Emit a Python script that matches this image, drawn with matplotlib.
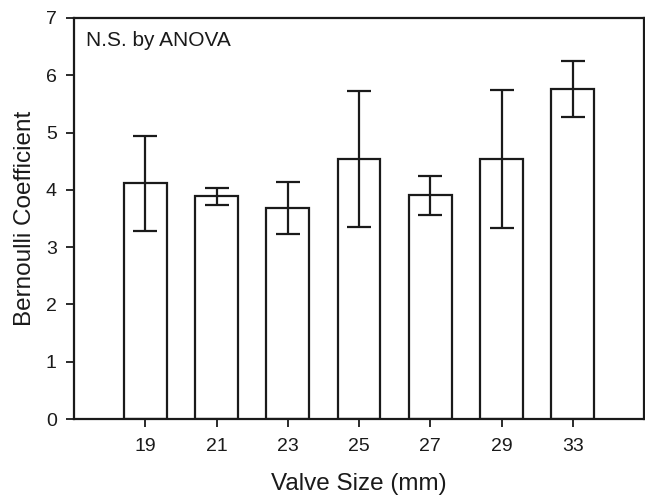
import matplotlib
matplotlib.use("Agg")
import matplotlib.pyplot as plt
import numpy as np

categories = ["19", "21", "23", "25", "27", "29", "33"]
means = [4.12, 3.89, 3.68, 4.54, 3.91, 4.54, 5.76]
err_upper = [4.94, 4.03, 4.13, 5.72, 4.24, 5.74, 6.25]
err_lower = [3.28, 3.73, 3.23, 3.35, 3.56, 3.34, 5.27]

plt.rcParams['font.family'] = ['Liberation Sans', 'DejaVu Sans']

fig = plt.figure(figsize=(6.45, 4.96), dpi=100)
ax = fig.add_axes([74/645, 1-419/496, 570/645, (419-18)/496])

x = np.arange(len(categories))
lo = np.array(means) - np.array(err_lower)
hi = np.array(err_upper) - np.array(means)
ax.bar(x, means, width=0.6, color='white', edgecolor='#1a1a1a', linewidth=1.6, zorder=2)
ax.errorbar(x, means, yerr=[lo, hi], fmt='none', ecolor='#1a1a1a', elinewidth=1.6,
            capsize=8.5, capthick=1.6, zorder=3)

ax.set_xlim(-1, 7)
ax.set_ylim(0, 7)
ax.set_xticks(x)
ax.set_xticklabels(categories)
ax.set_yticks(range(0, 8))
ax.tick_params(direction='out', length=5.5, width=1.3, labelsize=14, color='#1a1a1a',
               labelcolor='#1a1a1a')
ax.tick_params(axis='x', pad=8)
ax.tick_params(axis='y', pad=7)
for s in ax.spines.values():
    s.set_linewidth(1.6)
    s.set_color('#1a1a1a')
ax.set_xlabel('Valve Size (mm)', fontsize=17.5, labelpad=13, color='#1a1a1a')
ax.set_ylabel('Bernoulli Coefficient', fontsize=17.5, labelpad=7, color='#1a1a1a')
ax.text(0.021, 0.945, 'N.S. by ANOVA', transform=ax.transAxes, fontsize=15,
        ha='left', va='center', color='#1a1a1a')

fig.savefig('out.png', dpi=100)
